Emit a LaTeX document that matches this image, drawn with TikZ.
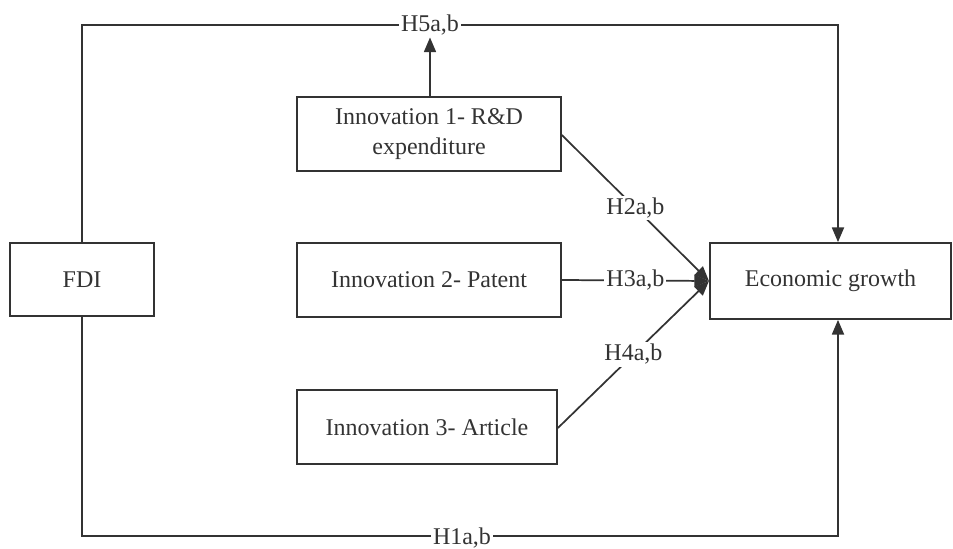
\documentclass[tikz,border=0pt]{standalone}
\usepackage{fontspec}
\setmainfont{Liberation Serif}
\usetikzlibrary{arrows.meta}
\definecolor{ink}{HTML}{333333}
\tikzset{
  box/.style={draw=ink, line width=1.3pt, rectangle, align=center, inner sep=2pt,
              font=\fontsize{18}{22}\selectfont, text=ink},
  link/.style={draw=ink, line width=1.3pt},
  arr/.style={link, -{Triangle[length=11pt,width=9pt]}},
  lab/.style={fill=white, inner sep=1.5pt, font=\fontsize{18}{21}\selectfont, text=ink},
  edgelab/.style={lab, inner ysep=0pt, text depth=0pt},
}
\begin{document}
\begin{tikzpicture}[x=0.75pt,y=-0.75pt]
\useasboundingbox (0,0) rectangle (953,549);

% boxes
\node[box, minimum width=108pt, minimum height=55pt] (fdi) at (82,279.5) {FDI};
\node[box, minimum width=198pt, minimum height=55.5pt] (inn1) at (429,134) {Innovation 1- R\&D\\expenditure};
\node[box, minimum width=198pt, minimum height=55.5pt] (inn2) at (429,280) {Innovation 2- Patent};
\node[box, minimum width=195pt, minimum height=55.5pt] (inn3) at (427,427) {Innovation 3- Article};
\node[box, minimum width=181pt, minimum height=57pt] (eg) at (830.5,281) {Economic growth};

% route corners
\coordinate (tl) at (82,25);
\coordinate (tr) at (838,25);
\coordinate (bl) at (82,536);
\coordinate (br) at (838,536);
\coordinate (join) at (eg.west);

% FDI -> Economic growth, over the top and along the bottom
\draw[arr] (fdi.north) -- (tl) -- (tr) -- (eg.north -| tr);
\draw[arr] (fdi.south) -- (bl) -- (br) -- (eg.south -| br);
\node[lab] (h5) at (430,25) {H5a,b};
\node[edgelab] (h1) at (462,536) {H1a,b};
\draw[arr] (inn1.north -| h5) -- (h5.south);

% innovation channels
\draw[arr] (inn1.east |- 0,135) -- node[lab] (h2) {H2a,b} (join);
\draw[arr] (inn2.east) -- node[lab] (h3) {H3a,b} (join);
\draw[arr] (inn3.east |- 0,428) -- node[lab] (h4) {H4a,b} (join);
\end{tikzpicture}
\end{document}
